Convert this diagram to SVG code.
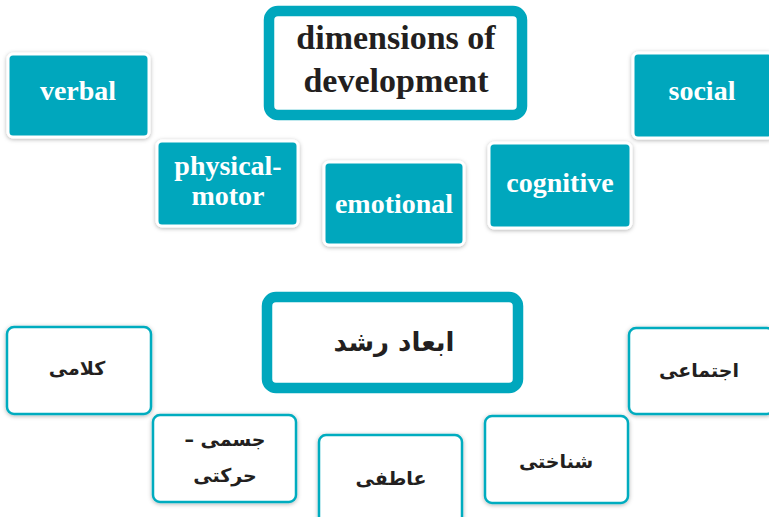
<svg xmlns="http://www.w3.org/2000/svg" width="769" height="517" viewBox="0 0 769 517">
<style>
.tb{fill:#00A7BD;stroke:#ffffff;stroke-width:3;filter:url(#sh)}
.wb{fill:#ffffff;stroke:#00ACBF;stroke-width:2.5;filter:url(#sh)}
.title{fill:#ffffff;stroke:#00A7BD;stroke-width:10.5}
.en{font-family:"Liberation Serif","Times New Roman",serif;font-weight:bold;text-anchor:middle}
.wt{fill:#ffffff;font-size:28px}
.tt{fill:#231F20;font-size:34px}
.fa{font-family:"DejaVu Sans","Noto Sans",sans-serif;font-weight:bold;text-anchor:middle;fill:#231F20;font-size:19px}
</style>
<defs>
<filter id="sh" x="-20%" y="-20%" width="140%" height="140%">
<feDropShadow dx="0" dy="1" stdDeviation="2" flood-color="#000" flood-opacity="0.3"/>
</filter>
</defs>
<rect width="769" height="517" fill="#ffffff"/>
<g id="connectors"></g>
<g id="title-en">
<rect class="title" x="269" y="11" width="253" height="104" rx="9"/>
<text class="en tt" x="396" y="49">dimensions of</text>
<text class="en tt" x="396" y="92">development</text>
</g>
<g id="verbal"><rect class="tb" x="8" y="54" width="141" height="83" rx="5"/><text class="en wt" x="78" y="100">verbal</text></g>
<g id="physical-motor"><rect class="tb" x="157" y="141" width="141" height="85" rx="5"/><text class="en wt" x="228" y="175">physical-</text><text class="en wt" x="228" y="205">motor</text></g>
<g id="emotional"><rect class="tb" x="324" y="162" width="140" height="83" rx="5"/><text class="en wt" x="394" y="213">emotional</text></g>
<g id="cognitive"><rect class="tb" x="489" y="143" width="142" height="85" rx="5"/><text class="en wt" x="560" y="192">cognitive</text></g>
<g id="social"><rect class="tb" x="633" y="53" width="140" height="85" rx="5"/><text class="en wt" x="702" y="100">social</text></g>

<g id="title-fa">
<rect class="title" x="267" y="297" width="251" height="91" rx="9"/>
<text class="fa" x="394" y="351" style="font-size:26px" direction="rtl">ابعاد رشد</text>
</g>
<g id="kalami"><rect class="wb" x="7" y="327" width="144" height="87" rx="7"/><text class="fa" x="77" y="375" direction="rtl">کلامی</text></g>
<g id="jesmi"><rect class="wb" x="153" y="415" width="143" height="87" rx="7"/><text class="fa" x="225" y="446" direction="rtl">جسمی –</text><text class="fa" x="225" y="482" direction="rtl">حرکتی</text></g>
<g id="atefi"><rect class="wb" x="319" y="435" width="143" height="95" rx="7"/><text class="fa" x="391" y="485" direction="rtl">عاطفی</text></g>
<g id="shenakhti"><rect class="wb" x="485" y="416" width="143" height="87" rx="7"/><text class="fa" x="556" y="468" direction="rtl">شناختی</text></g>
<g id="ejtemai"><rect class="wb" x="629" y="328" width="145" height="86" rx="7"/><text class="fa" x="699" y="377" direction="rtl">اجتماعی</text></g>
</svg>
